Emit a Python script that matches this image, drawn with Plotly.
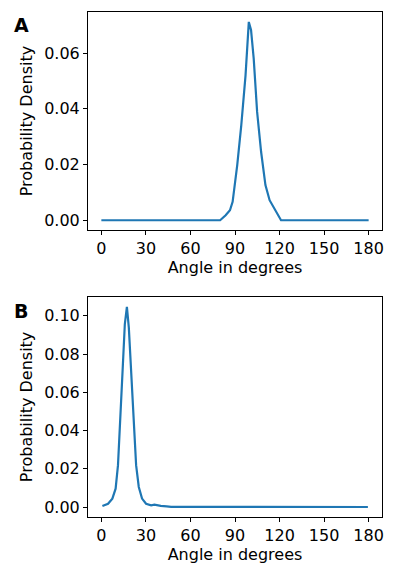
import plotly.graph_objects as go
from plotly.subplots import make_subplots

# painel A: densidade de probabilidade dos ângulos
angle_a = [0, 40, 80, 83.7, 86.6, 88.4, 89.7, 91.5, 94.2, 97.1, 99.3, 100.8, 102.6,
           104.9, 107.6, 110.5, 113.3, 117.1, 121, 150, 180]
dens_a = [0, 0, 0, 0.0018, 0.0036, 0.0066, 0.0114, 0.0198, 0.034, 0.052, 0.0712, 0.0683,
          0.058, 0.0389, 0.0245, 0.0126, 0.0072, 0.0036, 0, 0, 0]

# painel B
angle_b = [0.7, 4.5, 7.4, 9.6, 11.2, 12.7, 14.5, 15.8, 17.2, 18.5, 19.9, 21.6, 23.4,
           25.2, 27.4, 30.1, 33.5, 35.7, 37.5, 40, 44, 47, 60, 90, 120, 150, 179.5]
dens_b = [0.0005, 0.0017, 0.0044, 0.0096, 0.0219, 0.043, 0.0745, 0.0956, 0.1047, 0.0938,
          0.071, 0.043, 0.0219, 0.0105, 0.0044, 0.0017, 0.0009, 0.0012, 0.0008, 0.0006,
          0.0003, 0.0001, 0.00005, 0.00002, 0.00001, 0.00001, 0.00001]

xticks = [0, 30, 60, 90, 120, 150, 180]
blue = "#1f77b4"
font = "DejaVu Sans, Arial, sans-serif"
fs = 16

# a página tem margem de 8px no body, então a figura é um pouco menor
W, H = 389, 562
ML, MR, MT, MB = 80, 15, 4, 53

fig = make_subplots(rows=2, cols=1)
fig.add_trace(go.Scatter(x=angle_a, y=dens_a, mode="lines", line=dict(color=blue, width=2.2)), row=1, col=1)
fig.add_trace(go.Scatter(x=angle_b, y=dens_b, mode="lines", line=dict(color=blue, width=2.2)), row=2, col=1)

def yrange(vals):
    lo, hi = min(vals), max(vals)
    pad = (hi - lo) * 0.05
    return [lo - pad, hi + pad]

axis_style = dict(showline=True, mirror=True, linecolor="black", linewidth=1,
                  ticks="outside", ticklen=4, tickwidth=1, tickcolor="black",
                  showgrid=False, zeroline=False, automargin=False,
                  tickfont=dict(size=fs, color="black"))

for r, vals, ticks in [(1, dens_a, [0, 0.02, 0.04, 0.06]), (2, dens_b, [0, 0.02, 0.04, 0.06, 0.08, 0.10])]:
    fig.update_xaxes(range=[-9, 189], tickvals=xticks, row=r, col=1,
                     title=dict(text="Angle in degrees", font=dict(size=fs, color="black"), standoff=4),
                     **axis_style)
    fig.update_yaxes(range=yrange(vals), tickvals=ticks, tickformat=".2f", row=r, col=1,
                     title=dict(text="Probability Density", font=dict(size=fs, color="black"), standoff=7),
                     **axis_style)

fig.update_layout(
    width=W, height=H,
    margin=dict(l=ML, r=MR, t=MT, b=MB),
    paper_bgcolor="white", plot_bgcolor="white",
    showlegend=False,
    font=dict(family=font, color="black"),
    yaxis=dict(domain=[0.568, 1.0]),
    yaxis2=dict(domain=[0.0, 0.436]),
    annotations=[
        dict(text="<b>A</b>", x=4, y=4, xref="paper", yref="paper", showarrow=False,
             font=dict(size=19, color="black")),
        dict(text="<b>B</b>", x=4, y=290, xref="paper", yref="paper", showarrow=False,
             font=dict(size=19, color="black")),
    ],
)

# posições das letras em pixels convertidas para coordenadas de papel
w = W - ML - MR
h = H - MT - MB
for ann in fig.layout.annotations:
    px, py = ann.x, ann.y
    ann.x = (px - ML) / w
    ann.y = (H - MB - py) / h
    ann.xanchor = "left"
    ann.yanchor = "top"

fig.write_html("out.html")
